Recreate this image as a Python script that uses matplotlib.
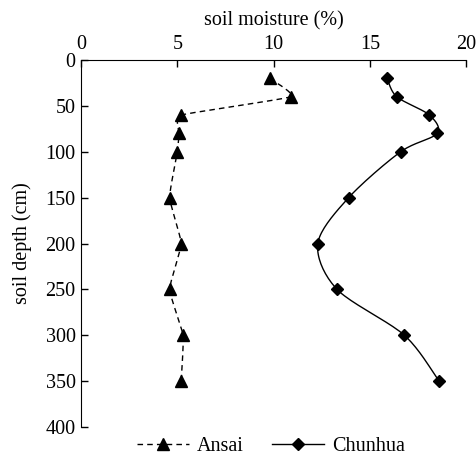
import numpy as np
import matplotlib
matplotlib.use("Agg")
import matplotlib.pyplot as plt
from matplotlib.lines import Line2D

depth = [20, 40, 60, 80, 100, 150, 200, 250, 300, 350]
ansai = [9.8, 10.9, 5.2, 5.1, 5.0, 4.6, 5.2, 4.6, 5.3, 5.2]
chunhua = [15.9, 16.4, 18.1, 18.5, 16.6, 13.9, 12.3, 13.3, 16.8, 18.6]
xticks = [0, 5, 10, 15, 20]
yticks = [0, 50, 100, 150, 200, 250, 300, 350, 400]

plt.rcParams['font.family'] = ['Liberation Serif', 'DejaVu Serif']
plt.rcParams['font.size'] = 14.5


def smooth(x, y, tension=1.0, n=20):
    x = np.asarray(x, float); y = np.asarray(y, float)
    P = np.column_stack([x, y])
    P = np.vstack([P[0], P, P[-1]])
    out = []
    for i in range(1, len(P) - 2):
        p0, p1, p2, p3 = P[i - 1], P[i], P[i + 1], P[i + 2]
        m1 = tension * 0.5 * (p2 - p0)
        m2 = tension * 0.5 * (p3 - p1)
        t = np.linspace(0, 1, n, endpoint=False)[:, None]
        h00 = 2 * t ** 3 - 3 * t ** 2 + 1
        h10 = t ** 3 - 2 * t ** 2 + t
        h01 = -2 * t ** 3 + 3 * t ** 2
        h11 = t ** 3 - t ** 2
        out.append(h00 * p1 + h10 * m1 + h01 * p2 + h11 * m2)
    out.append(P[-2][None, :])
    out = np.vstack(out)
    return out[:, 0], out[:, 1]


fig = plt.figure(figsize=(4.77, 4.57), dpi=100)
ax = fig.add_axes([0.17, 0.0656, 0.807, 0.803])

sx, sy = smooth(ansai, depth, tension=0.4)
ax.plot(sx, sy, color='black', lw=1.0, ls=(0, (4, 3)))
ax.plot(ansai, depth, ls='none', marker='^', color='black', ms=9)
cx, cy = smooth(chunhua, depth, tension=0.9)
ax.plot(cx, cy, color='black', lw=1.0)
ax.plot(chunhua, depth, ls='none', marker='D', color='black', ms=6.5)

ax.set_xlim(0, 20)
ax.set_ylim(400, 0)
ax.set_xticks(xticks)
ax.set_yticks(yticks)
ax.xaxis.tick_top()
ax.xaxis.set_label_position('top')
ax.set_xlabel('soil moisture (%)', labelpad=7)
ax.set_ylabel('soil depth (cm)', labelpad=10)
ax.spines['right'].set_visible(False)
ax.spines['bottom'].set_visible(False)
ax.tick_params(direction='in', length=5, width=1, pad=4)

handles = [Line2D([], [], color='black', lw=1.0, ls=(0, (4, 3)), marker='^', ms=9),
           Line2D([], [], color='black', lw=1.0, marker='D', ms=6.5)]
fig.legend(handles, ['Ansai', 'Chunhua'], loc='center', bbox_to_anchor=(0.568, 0.022),
           ncol=2, frameon=False, handlelength=2.6, columnspacing=1.4, handletextpad=0.4,
           borderaxespad=0, borderpad=0)
fig.savefig('out.png', dpi=100)
